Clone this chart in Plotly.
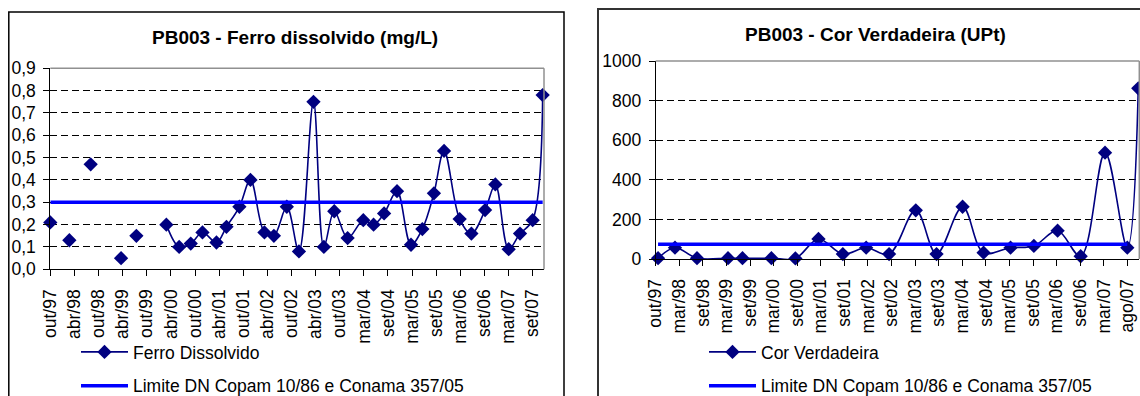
import plotly.graph_objects as go
from datetime import date, timedelta

W, H = 1140, 396
FONT = "Liberation Sans, Arial, sans-serif"
NAVY = "#000080"
BLUE = "#0000FF"

# ---------------- Data: PB003 - Ferro dissolvido (mg/L) ----------------
fe_dates = [
    "1997-10-20", "1998-01-01", "1998-03-12", "1998-06-01", "1998-08-19",
    "1998-12-01", "1999-04-04", "1999-06-01", "1999-07-28", "1999-11-01",
    "2000-03-09", "2000-06-13", "2000-09-08", "2000-12-05", "2001-03-20",
    "2001-06-03", "2001-09-08", "2001-11-30", "2002-03-15", "2002-05-25",
    "2002-08-30", "2002-11-29", "2003-03-18", "2003-06-04", "2003-08-21",
    "2003-11-29", "2004-03-26", "2004-06-11", "2004-08-29", "2004-12-04",
    "2005-03-19", "2005-06-12", "2005-09-07", "2005-11-22", "2006-03-19",
    "2006-06-15", "2006-09-26", "2006-12-12", "2007-03-22", "2007-06-15",
    "2007-09-18", "2007-12-02",
]
fe_values = [
    0.21, None, 0.13, None, 0.47,
    None, 0.05, None, 0.15, None,
    0.20, 0.10, 0.115, 0.165, 0.12,
    0.19, 0.28, 0.40, 0.165, 0.15,
    0.28, 0.08, 0.75, 0.10, 0.26,
    0.14, 0.22, 0.20, 0.25, 0.35,
    0.11, 0.18, 0.34, 0.53, 0.225,
    0.16, 0.265, 0.38, 0.09, 0.16,
    0.22, 0.78,
]
fe_limit = 0.3
fe_tick_labels = [
    "out/97", "abr/98", "out/98", "abr/99", "out/99", "abr/00", "out/00",
    "abr/01", "out/01", "abr/02", "out/02", "abr/03", "out/03", "mar/04",
    "set/04", "mar/05", "set/05", "mar/06", "set/06", "mar/07", "set/07",
]

# ---------------- Data: PB003 - Cor Verdadeira (UPt) ----------------
cor_dates = [
    "1997-10-19", "1998-02-26", "1998-08-14", "1999-04-09", "1999-07-29",
    "2000-03-07", "2000-09-07", "2001-03-03", "2001-09-06", "2002-03-04",
    "2002-08-27", "2003-03-20", "2003-08-26", "2004-03-13", "2004-08-21",
    "2005-03-16", "2005-09-11", "2006-03-12", "2006-09-05", "2007-03-11",
    "2007-08-29", "2007-11-21",
]
cor_values = [
    4, 57, 4, 4, 4,
    4, 3, 101, 25, 57,
    25, 246, 25, 264, 32,
    57, 66, 143, 14, 537,
    57, 862,
]
cor_limit = 75
cor_tick_labels = [
    "out/97", "mar/98", "set/98", "mar/99", "set/99", "mar/00", "set/00",
    "mar/01", "set/01", "mar/02", "set/02", "mar/03", "set/03", "mar/04",
    "set/04", "mar/05", "set/05", "mar/06", "set/06", "mar/07", "ago/07",
]

# axis tick positions (Excel date axis: major unit of 181 days)
def tick_dates(start, n, step=181):
    return [(start + timedelta(days=step * k)).isoformat() for k in range(n)]

fe_ticks = tick_dates(date(1997, 10, 20), len(fe_tick_labels))
cor_ticks = tick_dates(date(1997, 10, 1), len(cor_tick_labels))


def px_x(x):
    return x / W


def px_y(y):
    return 1 - y / H


# plot areas in page pixels
L_X0, L_X1, L_Y0, L_Y1 = 50.3, 544.0, 68.3, 269.3
R_X0, R_X1, R_Y0, R_Y1 = 655.7, 1139.3, 61.0, 259.0

fig = go.Figure()

# left chart
fig.add_trace(go.Scatter(
    x=fe_dates, y=fe_values, name="Ferro Dissolvido",
    mode="lines+markers", connectgaps=False,
    line=dict(color=NAVY, width=1.6, shape="spline", smoothing=1.0),
    marker=dict(symbol="diamond", size=11, color=NAVY),
    cliponaxis=False, xaxis="x", yaxis="y",
    legend="legend", legendgroup="a",
))
fig.add_trace(go.Scatter(
    x=[fe_dates[0], fe_dates[-1]], y=[fe_limit, fe_limit],
    name="Limite DN Copam 10/86 e Conama 357/05",
    mode="lines", line=dict(color=BLUE, width=3.5),
    xaxis="x", yaxis="y", legend="legend", legendgroup="b",
))

# right chart
fig.add_trace(go.Scatter(
    x=cor_dates, y=cor_values, name="Cor Verdadeira",
    mode="lines+markers",
    line=dict(color=NAVY, width=1.6, shape="spline", smoothing=1.0),
    marker=dict(symbol="diamond", size=11, color=NAVY),
    cliponaxis=False, xaxis="x2", yaxis="y2",
    legend="legend2", legendgroup="c",
))
fig.add_trace(go.Scatter(
    x=[cor_dates[0], cor_dates[-2]], y=[cor_limit, cor_limit],
    name="Limite DN Copam 10/86 e Conama 357/05",
    mode="lines", line=dict(color=BLUE, width=3.5),
    xaxis="x2", yaxis="y2", legend="legend2", legendgroup="d",
))

tickfont = dict(family=FONT, size=17.5, color="black")
common_x = dict(
    type="date", tickmode="array", tickangle=-90, ticks="outside", ticklen=6,
    tickcolor="black", showline=True, linecolor="black", linewidth=1,
    showgrid=False, zeroline=False, tickfont=tickfont, fixedrange=True,
    automargin=False, ticklabelstandoff=6,
)
common_y = dict(
    ticks="outside", ticklen=6, tickcolor="black", showline=True,
    linecolor="black", linewidth=1, showgrid=True, gridcolor="black",
    gridwidth=1, griddash="7px,4px", zeroline=False, tickfont=tickfont,
    fixedrange=True, automargin=False, ticklabelstandoff=4,
)

legend_common = dict(
    xanchor="left", yanchor="top",
    font=dict(family=FONT, size=17.5, color="black"),
    bgcolor="rgba(0,0,0,0)", traceorder="grouped",
    tracegroupgap=8, itemwidth=47,
)

fig.update_layout(
    width=W, height=H, autosize=False,
    margin=dict(l=0, r=0, t=0, b=0, pad=0, autoexpand=False),
    paper_bgcolor="white", plot_bgcolor="white",
    separators=",.",
    font=dict(family=FONT, size=17, color="black"),
    xaxis=dict(common_x, domain=[px_x(L_X0), px_x(L_X1)],
               range=[fe_dates[0], "2007-12-12"],
               tickvals=fe_ticks, ticktext=fe_tick_labels, anchor="y"),
    yaxis=dict(common_y, domain=[px_y(L_Y1), px_y(L_Y0)],
               range=[0, 0.9], dtick=0.1, tick0=0, tickformat=".1f",
               anchor="x"),
    xaxis2=dict(common_x, domain=[px_x(R_X0), px_x(R_X1)],
                range=["1997-10-01", "2007-11-29"],
                tickvals=cor_ticks, ticktext=cor_tick_labels, anchor="y2"),
    yaxis2=dict(common_y, domain=[px_y(R_Y1), px_y(R_Y0)],
                range=[0, 1000], dtick=200, tick0=0, tickformat="d",
                anchor="x2"),
    legend=dict(legend_common, x=px_x(76), y=px_y(334)),
    legend2=dict(legend_common, x=px_x(704), y=px_y(334)),
    showlegend=True,
    annotations=[
        dict(text="<b>PB003 - Ferro dissolvido (mg/L)</b>", x=px_x(294.5),
             y=px_y(38), xref="paper", yref="paper", showarrow=False,
             xanchor="center", yanchor="middle",
             font=dict(family=FONT, size=19, color="black")),
        dict(text="<b>PB003 - Cor Verdadeira (UPt)</b>", x=px_x(876),
             y=px_y(35), xref="paper", yref="paper", showarrow=False,
             xanchor="center", yanchor="middle",
             font=dict(family=FONT, size=19, color="black")),
    ],
    shapes=[
        # outer chart frames
        dict(type="rect", xref="paper", yref="paper", x0=px_x(8.8), x1=px_x(564),
             y0=px_y(420), y1=px_y(12), line=dict(color="black", width=1.5),
             layer="below"),
        dict(type="rect", xref="paper", yref="paper", x0=px_x(598), x1=px_x(1160),
             y0=px_y(420), y1=px_y(9), line=dict(color="#333333", width=2),
             layer="below"),
        # plot area borders (top and right)
        dict(type="line", xref="paper", yref="paper", x0=px_x(L_X0), x1=px_x(L_X1),
             y0=px_y(L_Y0), y1=px_y(L_Y0), line=dict(color="#909090", width=1.5),
             layer="above"),
        dict(type="line", xref="paper", yref="paper", x0=px_x(L_X1), x1=px_x(L_X1),
             y0=px_y(L_Y0), y1=px_y(L_Y1), line=dict(color="#909090", width=1.5),
             layer="above"),
        dict(type="line", xref="paper", yref="paper", x0=px_x(R_X0), x1=px_x(R_X1),
             y0=px_y(R_Y0), y1=px_y(R_Y0), line=dict(color="#909090", width=1.5),
             layer="above"),
        dict(type="line", xref="paper", yref="paper", x0=px_x(R_X1), x1=px_x(R_X1),
             y0=px_y(R_Y0), y1=px_y(R_Y1), line=dict(color="#909090", width=1.5),
             layer="above"),
    ],
)

# remove the browser's default page margin so the figure fills the window exactly
fig.write_html(
    "out.html",
    config={"displayModeBar": False},
    post_script="document.body.style.margin='0';document.body.style.overflow='hidden';",
)
